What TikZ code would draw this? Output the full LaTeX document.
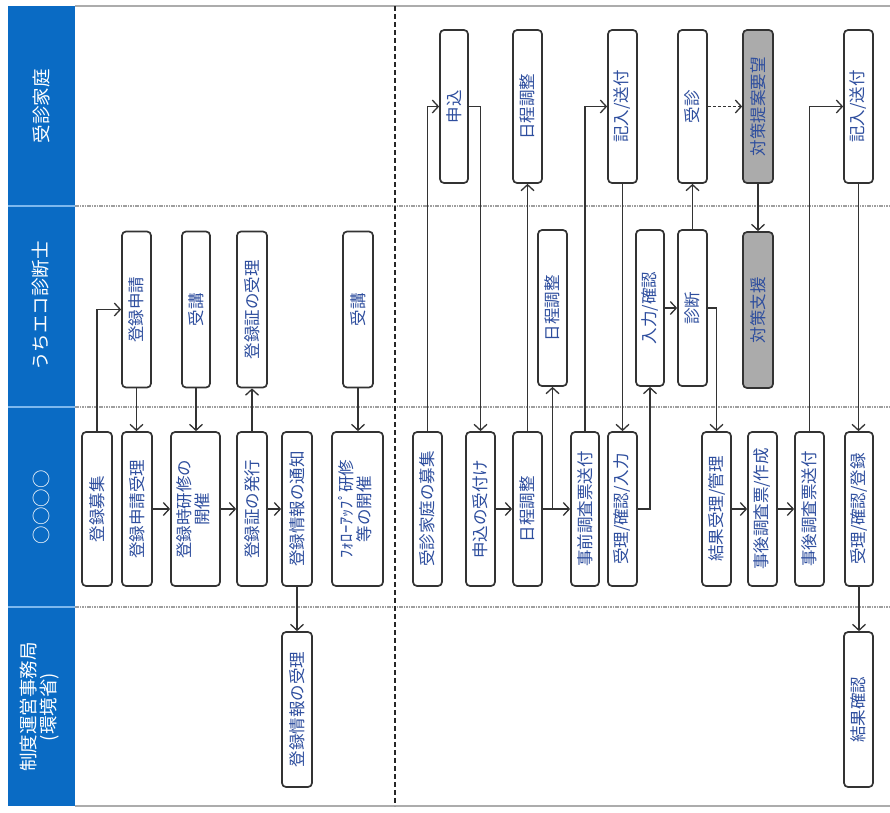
\documentclass[tikz,border=0pt]{standalone}
\usepackage{fontspec}
\setmainfont{Noto Sans CJK JP}
\usetikzlibrary{arrows.meta}
\definecolor{hdr}{HTML}{0A6BC4}
\definecolor{hdrline}{HTML}{7DB8EE}
\definecolor{txt}{HTML}{2E4E9E}
\definecolor{edge}{HTML}{333333}
\definecolor{grayfill}{HTML}{ABABAB}
\newcommand\rt[1]{\rotatebox{90}{#1}}
\newcommand\rtt[2]{\rotatebox{90}{\begin{tabular}{@{}c@{}}#1\\[-2pt]#2\end{tabular}}}
\tikzset{
 bx/.style={draw=edge, line width=1.7pt, rounded corners=4pt, fill=white, inner sep=0pt, text=txt, font=\fontsize{16.5}{19}\selectfont},
 gbx/.style={bx, fill=grayfill},
 ln/.style={draw=edge, line width=1.4pt, -{Straight Barb[length=6pt,width=13pt,line width=1.3pt]}},
 hdrtxt/.style={text=white, font=\fontsize{18.5}{21}\selectfont, inner sep=0pt},
 sep/.style={gray!75, line width=1.4pt, dash pattern=on 1.6pt off 0.8pt},
 la/.style={minimum height=153pt},
 lb/.style={minimum height=156pt},
 lc/.style={minimum height=154pt},
 ld/.style={minimum height=155pt},
 w/.style={minimum width=#1pt},
}
\begin{document}
\begin{tikzpicture}[x=1pt,y=-1pt]
\useasboundingbox (0,0) rectangle (890,812);
\fill[white] (0,0) rectangle (890,812);
% header column
\fill[hdr] (8,6) rectangle (75,806);
\foreach \yy in {206,407,607} \draw[hdrline, line width=1.8pt] (8,\yy) -- (75,\yy);
\node[hdrtxt] (h1) at (41,106) {\rt{受診家庭}};
\node[hdrtxt] (h2) at (41,306) {\rt{うちエコ診断士}};
\node[hdrtxt] (h3) at (41,507) {\rt{○○○○}};
\node[hdrtxt] (h4) at (41,707) {\rtt{制度運営事務局}{(環境省)}};
% borders and separators
\draw[gray!65, line width=1.8pt] (75,6) -- (890,6);
\draw[gray!65, line width=1.8pt] (75,806) -- (890,806);
\foreach \yy in {206,407,607} \draw[sep] (75,\yy) -- (890,\yy);
\draw[black!85, line width=1.5pt, dash pattern=on 5pt off 3pt] (395,6) -- (395,806);

% lane 1
\node[bx,la,w=28] (mo)  at (454,106.5) {\rt{申込}};
\node[bx,la,w=29] (nt1) at (527.5,106.5) {\rt{日程調整}};
\node[bx,la,w=29] (kn1) at (622.5,106.5) {\rt{記入/送付}};
\node[bx,la,w=29] (js)  at (692.5,106.5) {\rt{受診}};
\node[gbx,la,w=30] (tyb) at (758,106.5) {\rt{対策提案要望}};
\node[bx,la,w=29] (kn2) at (858.5,106.5) {\rt{記入/送付}};
% lane 2
\node[bx,lb,w=29] (ts)  at (136.5,309.5) {\rt{登録申請}};
\node[bx,lb,w=28] (jk1) at (196,309.5) {\rt{受講}};
\node[bx,lb,w=30] (tsj) at (252,309.5) {\rt{登録証の受理}};
\node[bx,lb,w=30] (jk2) at (358,309.5) {\rt{受講}};
\node[bx,lb,w=29] (nt2) at (552.5,308) {\rt{日程調整}};
\node[bx,lb,w=28] (nk)  at (650,308) {\rt{入力/確認}};
\node[bx,lb,w=29] (sd)  at (692.5,308) {\rt{診断}};
\node[gbx,lb,w=30] (ts2) at (758,310) {\rt{対策支援}};
% lane 3
\node[bx,lc,w=30] (tb)   at (97,509) {\rt{登録募集}};
\node[bx,lc,w=30] (tsju) at (137,509) {\rt{登録申請受理}};
\node[bx,lc,w=49] (tk)   at (195.5,509) {\rtt{登録時研修の}{開催}};
\node[bx,lc,w=30] (th)   at (252,509) {\rt{登録証の発行}};
\node[bx,lc,w=30] (tt)   at (297,509) {\rt{登録情報の通知}};
\node[bx,lc,w=51] (fu)   at (357.5,509) {\rtt{ﾌｫﾛｰｱｯﾌﾟ研修}{等の開催}};
\node[bx,lc,w=29] (jb)   at (427.5,509) {\rt{受診家庭の募集}};
\node[bx,lc,w=29] (mu)   at (480.5,509) {\rt{申込の受付け}};
\node[bx,lc,w=29] (nt3)  at (527.5,509) {\rt{日程調整}};
\node[bx,lc,w=28] (jz)   at (585,509) {\rt{事前調査票送付}};
\node[bx,lc,w=29] (ukn)  at (622.5,509) {\rt{受理/確認/入力}};
\node[bx,lc,w=29] (kk)   at (716.5,509) {\rt{結果受理/管理}};
\node[bx,lc,w=29] (jgs)  at (762.5,509) {\rt{事後調査票/作成}};
\node[bx,lc,w=29] (jgo)  at (809.5,509) {\rt{事後調査票送付}};
\node[bx,lc,w=28] (ukt)  at (859,509) {\rt{受理/確認/登録}};
% lane 4
\node[bx,ld,w=30] (tj)  at (297,709.5) {\rt{登録情報の受理}};
\node[bx,ld,w=29] (kka) at (858.5,709.5) {\rt{結果確認}};

% connectors, left part
\draw[ln] (tb.north) |- (ts.west);
\draw[ln] (ts.south) -- (ts.south |- tsju.north);
\draw[ln] (jk1.south) -- (jk1.south |- tk.north);
\draw[ln] (tsju.east) -- (tk.west);
\draw[ln] (tk.east) -- (th.west);
\draw[ln] (th.north) -- (th.north |- tsj.south);
\draw[ln] (th.east) -- (tt.west);
\draw[ln] (tt.south) -- (tt.south |- tj.north);
\draw[ln] (jk2.south) -- (jk2.south |- fu.north);
% connectors, right part
\draw[ln] (jb.north) |- (mo.west);
\draw[ln] (mo.east) -| (mu.north);
\draw[ln] (mu.east) -- (nt3.west);
\draw[ln] (nt3.north) -- (nt3.north |- nt1.south);
\draw[ln] (nt3.east) -- (jz.west);
\coordinate (br) at (nt2.south |- nt3.east);
\draw[ln] (br) -- (nt2.south);
\draw[ln] (jz.north) |- (kn1.west);
\draw[ln] (kn1.south) -- (kn1.south |- ukn.north);
\draw[ln] (ukn.east) -| (nk.south);
\draw[ln] (nk.east) -- (nk.east -| sd.west);
\draw[ln] (sd.north) -- (sd.north |- js.south);
\draw[ln, dash pattern=on 3pt off 2pt] (js.east) -- (tyb.west);
\draw[ln] (tyb.south) -- (tyb.south |- ts2.north);
\draw[ln] (sd.east) -| (kk.north);
\draw[ln] (kk.east) -- (jgs.west);
\draw[ln] (jgs.east) -- (jgo.west);
\draw[ln] (jgo.north) |- (kn2.west);
\draw[ln] (kn2.south) -- (kn2.south |- ukt.north);
\draw[ln] (ukt.south) -- (ukt.south |- kka.north);
\end{tikzpicture}
\end{document}
